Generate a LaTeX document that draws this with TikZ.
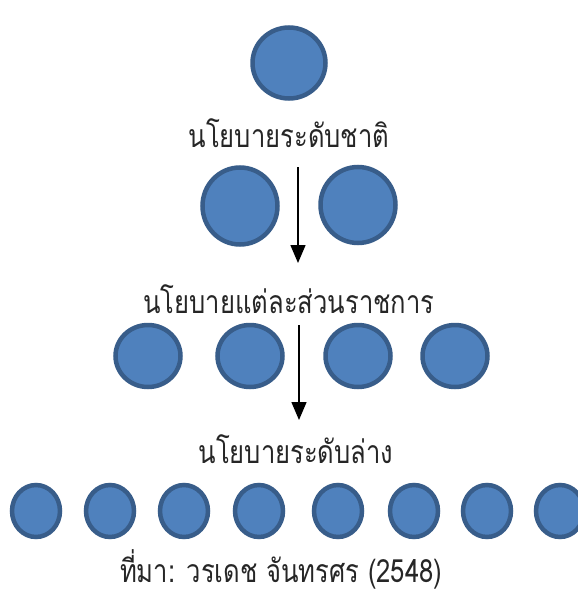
\documentclass[tikz,border=0pt]{standalone}
\usepackage{fontspec}
\newfontfamily\thaifont[Script=Thai,FakeStretch=0.8]{Loma}
\usetikzlibrary{shapes.geometric,arrows.meta}
\definecolor{blobfill}{HTML}{4F81BD}
\definecolor{blobedge}{HTML}{385D8A}
\tikzset{
  blob/.style={ellipse,draw=blobedge,fill=blobfill,line width=4.5pt,inner sep=0pt},
  lbl/.style={font=\thaifont\fontsize{32}{36}\selectfont,inner sep=0pt,text=black!85},
  flow/.style={line width=1.5pt,-{Triangle[length=18pt,width=15pt]}}
}
\begin{document}
\begin{tikzpicture}[x=1pt,y=-1pt]
\useasboundingbox (0,0) rectangle (578,597);
% top
\node[blob,minimum width=73pt,minimum height=71pt] (top) at (289,63) {};
\node[lbl] (l1) at (289,133) {นโยบายระดับชาติ};
% row 2
\node[blob,minimum width=75pt,minimum height=77pt] (a1) at (240,206) {};
\node[blob,minimum width=75pt,minimum height=76pt] (a2) at (358,205) {};
\node[lbl] (l2) at (289,299) {นโยบายแต่ละส่วนราชการ};
% row 3
\foreach \i/\x in {1/148,2/250,3/358,4/455}
  \node[blob,minimum width=65pt,minimum height=62pt] (b\i) at (\x,356) {};
\node[lbl] (l3) at (296,449) {นโยบายระดับล่าง};
% row 4
\foreach \i/\x in {1/36,2/110,3/184,4/259,5/338,6/414,7/487,8/560}
  \node[blob,minimum width=48pt,minimum height=52pt] (c\i) at (\x,511) {};
\node[lbl,anchor=base] (src) at (281,582) {ที่มา: วรเดช จันทรศร (2548)};
% arrows
\coordinate (s1) at (298,167);
\coordinate (e1) at (298,263);
\coordinate (s2) at (299,325);
\coordinate (e2) at (299,420);
\draw[flow] (s1) -- (e1);
\draw[flow] (s2) -- (e2);
\end{tikzpicture}
\end{document}
